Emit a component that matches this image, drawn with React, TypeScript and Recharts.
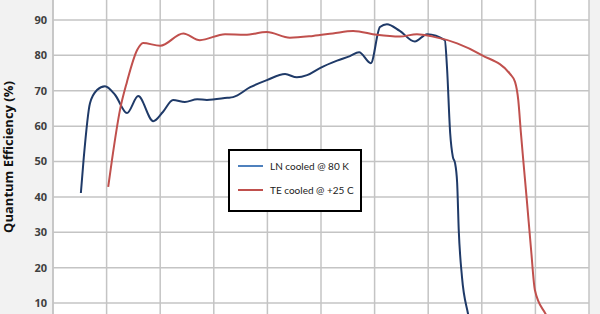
import React from 'react';
import { LineChart, Line, XAxis, YAxis, CartesianGrid, Legend } from 'recharts';

// wavelength (nm) and QE (%)
const lnWavelength = [852, 857, 869, 882, 897, 916, 938, 959, 987, 1005, 1024, 1046, 1069, 1087, 1125, 1136, 1168, 1199, 1233, 1255, 1274, 1298, 1330, 1354, 1371, 1393, 1410, 1423, 1447, 1475, 1498, 1531, 1535, 1541, 1546, 1550, 1554, 1557, 1563, 1574, 1580];
const lnQE = [41.1, 50.4, 66.5, 70.2, 71.3, 68.8, 63.7, 68.5, 61.4, 64, 67.4, 66.8, 67.6, 67.4, 68, 68.2, 71, 73, 74.7, 73.8, 74.4, 76.4, 78.5, 79.8, 80.9, 77.8, 88, 88.8, 86.9, 83.9, 86, 84.3, 76.8, 58, 51.3, 49.6, 44, 30.6, 17.4, 7.2, 3];

const teWavelength = [903, 910, 925, 938, 957, 968, 1000, 1043, 1074, 1121, 1158, 1199, 1242, 1285, 1322, 1360, 1404, 1447, 1479, 1509, 1554, 1600, 1653, 1662, 1668, 1673, 1677, 1684, 1692, 1699, 1718, 1727];
const teQE = [42.8, 50.4, 64.6, 72.5, 81.5, 83.5, 82.7, 86.2, 84.3, 86, 85.8, 86.6, 85, 85.5, 86.2, 86.9, 85.8, 85.3, 86, 85.3, 83.4, 80.1, 74.7, 72.5, 67.4, 58, 51, 39.1, 25, 13.7, 7.2, 5];

const xTicks = [800, 900, 1000, 1100, 1200, 1300, 1400, 1500, 1600, 1700, 1800];
const yTicks = [10, 20, 30, 40, 50, 60, 70, 80, 90];

const lnData = lnWavelength.map((x, i) => ({ x, qe: lnQE[i] }));
const teData = teWavelength.map((x, i) => ({ x, qe: teQE[i] }));

const legendColors: Record<string, string> = {
  'LN cooled @ 80 K': '#4f81bd',
  'TE cooled @ +25 C': '#c0504d',
};

const renderLegend = (props: any) => {
  const { payload } = props;
  return (
    <div
      style={{
        width: 130,
        height: 56,
        border: '2px solid #000',
        background: '#fff',
        boxSizing: 'content-box',
        fontFamily: 'Lato, sans-serif',
        fontSize: 10,
        color: '#222',
        paddingTop: 3,
        whiteSpace: 'nowrap',
      }}
    >
      {(payload || []).map((entry: any) => (
        <div key={entry.value} style={{ display: 'flex', alignItems: 'center', height: 24, marginLeft: 8 }}>
          <span style={{ display: 'inline-block', width: 25, height: 2, background: legendColors[entry.value], marginRight: 7 }} />
          <span>{entry.value}</span>
        </div>
      ))}
    </div>
  );
};

export default function App() {
  return (
    <div style={{ position: 'fixed', top: 0, left: 0, width: 600, height: 314, background: '#f2f2f2' }}>
      <LineChart width={600} height={314} margin={{ top: 0, right: 11, bottom: 0, left: 0 }}>
        <CartesianGrid fill="#fff" stroke="#c4c4c4" strokeWidth={1.5} horizontalValues={yTicks} verticalValues={xTicks} />
        <XAxis type="number" dataKey="x" domain={[800, 1800]} ticks={xTicks} hide allowDataOverflow />
        <YAxis
          type="number"
          width={53}
          domain={[6.9, 95.65]}
          ticks={yTicks}
          allowDataOverflow
          axisLine={{ stroke: '#c4c4c4', strokeWidth: 1.5 }}
          tickLine={false}
          tickSize={4}
          tickMargin={2}
          tick={{ fill: '#404040', fontSize: 11, fontWeight: 'bold', fontFamily: 'Open Sans, sans-serif' }}
          label={{
            value: 'Quantum Efficiency (%)',
            angle: -90,
            position: 'insideLeft',
            offset: 8,
            style: { textAnchor: 'middle', fill: '#111', fontSize: 13, fontWeight: 'bold', fontFamily: 'Open Sans, sans-serif' },
          }}
        />
        <Legend
          layout="vertical"
          align="center"
          verticalAlign="middle"
          content={renderLegend}
          wrapperStyle={{ left: 228, top: 149, width: 'auto' }}
        />
        <Line data={lnData} dataKey="qe" name="LN cooled @ 80 K" type="monotone" stroke="#1f3a68" strokeWidth={2} dot={false} isAnimationActive={false} />
        <Line data={teData} dataKey="qe" name="TE cooled @ +25 C" type="monotone" stroke="#c0504d" strokeWidth={2} dot={false} isAnimationActive={false} />
      </LineChart>
    </div>
  );
}
